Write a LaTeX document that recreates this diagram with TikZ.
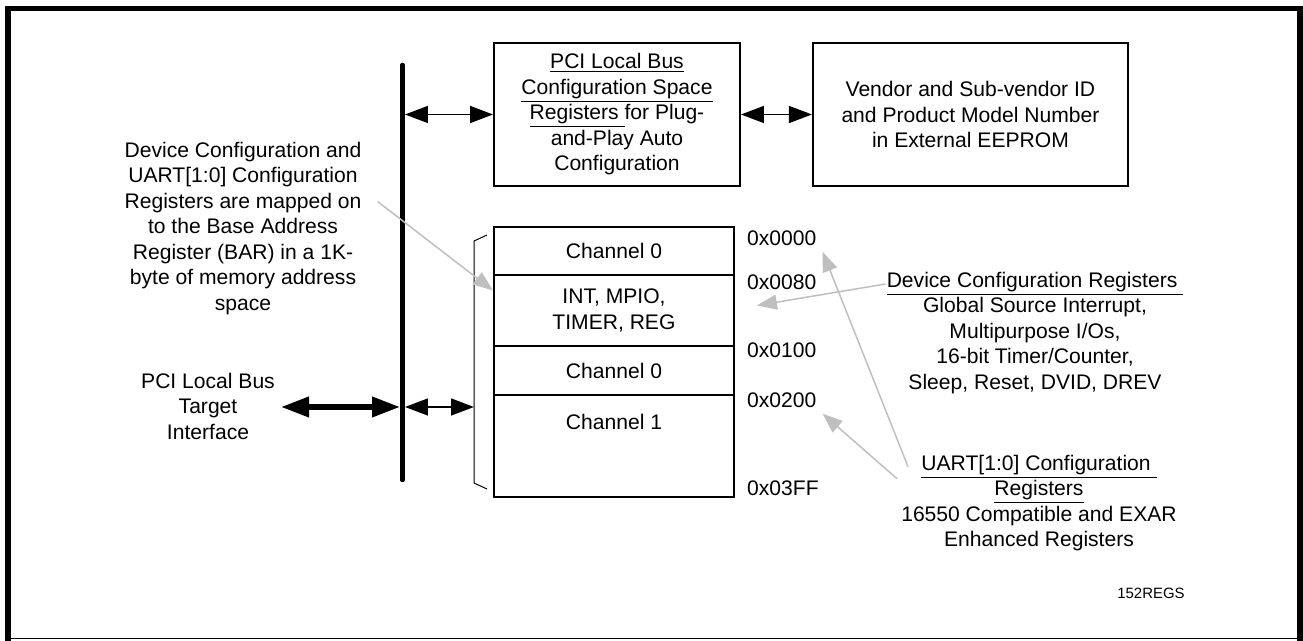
\documentclass[tikz,border=0pt]{standalone}
\usepackage{fontspec}
\setmainfont{Liberation Sans}
\usetikzlibrary{arrows.meta, positioning}
\newcommand{\txtfont}{\fontsize{12pt}{14.5pt}\selectfont}

\begin{document}
\begin{tikzpicture}[
        x=0.02cm, y=-0.02cm,
        every node/.style={font=\txtfont},
        box/.style={draw, rectangle, line width=0.04cm, align=center, minimum height=2.86cm},
        cell/.style={draw, rectangle, line width=0.04cm, align=center, minimum width=4.8cm, outer sep=0pt},
        txt/.style={align=center},
        addr/.style={anchor=west},
        bus/.style={line width=0.09cm, line cap=round},
        dbl/.style={line width=0.03cm, {Triangle[length=0.46cm, width=0.34cm]}-{Triangle[length=0.46cm, width=0.34cm]}},
        dblthick/.style={line width=0.11cm, {Triangle[length=0.56cm, width=0.39cm]}-{Triangle[length=0.56cm, width=0.39cm]}},
        pointer/.style={draw=gray!50, line width=0.03cm, -{Triangle[length=0.4cm, width=0.3cm]}},
        node distance=0cm
    ]
        \useasboundingbox (0,0) rectangle (1303,641);
        % frame
        \draw[line width=0.11cm] (8,641) -- (8,8.5) -- (1300,8.5) -- (1300,641);
        \draw[line width=0.02cm] (8,639) -- (1300,639);

        % configuration boxes
        \node[box, minimum width=4.92cm] (pcicfg) at (617,114.5) {\underline{PCI Local Bus}\\\underline{Configuration Space}\\\underline{Registers\ }for Plug-\\and-Play Auto\\Configuration};
        \node[box, minimum width=6.3cm, right=1.42cm of pcicfg] (vendor) {Vendor and Sub-vendor ID\\and Product Model Number\\in External EEPROM};

        % memory map
        \node[cell, minimum height=0.96cm, anchor=north west] (chzero) at (494,227) {Channel 0};
        \node[cell, minimum height=1.42cm, below=of chzero] (devregs) {INT, MPIO,\\TIMER, REG};
        \node[cell, minimum height=0.98cm, below=of devregs] (chzerob) {Channel 0};
        \node[cell, minimum height=2.04cm, below=of chzerob, label={[anchor=north, yshift=-0.26cm]north:Channel 1}] (chone) {};

        \node[addr] (azero) at (741,238) {0x0000};
        \node[addr] (aeighty) at (741,282) {0x0080};
        \node[addr] (aone) at (741,350) {0x0100};
        \node[addr] (atwo) at (741,400) {0x0200};
        \node[addr] (aend) at (741,488) {0x03FF};

        % notes
        \node[txt] (mapnote) at (243,228.5) {Device Configuration and\\UART[1:0] Configuration\\Registers are mapped on\\to the Base Address\\Register (BAR) in a 1K-\\byte of memory address\\space};
        \node[txt] (pcitgt) at (208,406) {PCI Local Bus\\Target\\Interface};
        \node[txt] (devnote) at (1035,333) {\underline{Device Configuration Registers\ }\\Global Source Interrupt,\\Multipurpose I/Os,\\16-bit Timer/Counter,\\Sleep, Reset, DVID, DREV};
        \node[txt] (uartnote) at (1039,503) {\underline{UART[1:0] Configuration\ }\\\underline{Registers}\\16550 Compatible and EXAR\\Enhanced Registers};
        \node[font=\fontsize{8.5pt}{10pt}\selectfont] (figid) at (1151,593) {152REGS};

        % bus and arrows
        \coordinate (bustop) at (402.5,65);
        \coordinate (busbot) at (402.5,480);
        \coordinate (busR) at (405,0);
        \coordinate (busL) at (400,0);
        \coordinate (brkmid) at (474,407);
        \draw[bus] (bustop) -- (busbot);
        \draw[dbl] (pcicfg.west -| busR) -- (pcicfg.west);
        \draw[dbl] (pcicfg.east) -- (vendor.west);
        \draw[dblthick] (pcitgt.east |- brkmid) -- (brkmid -| busL);
        \draw[dbl] (brkmid -| busR) -- (brkmid);
        \draw[line width=0.02cm] (487,235) -- (474,241) -- (474,483) -- (487,489);

        % pointers
        \draw[pointer] ([shift={(10,-27)}]mapnote.east) -- ([shift={(-1,-20)}]devregs.west);
        \draw[pointer] ([shift={(5,18)}]devnote.north west) -- ([shift={(23,-5)}]devregs.east);
        \draw[pointer] ([shift={(13,18)}]uartnote.north west) -- (azero.south east);
        \draw[pointer] ([shift={(2,30)}]uartnote.north west) -- (atwo.south east);
\end{tikzpicture}
\end{document}
